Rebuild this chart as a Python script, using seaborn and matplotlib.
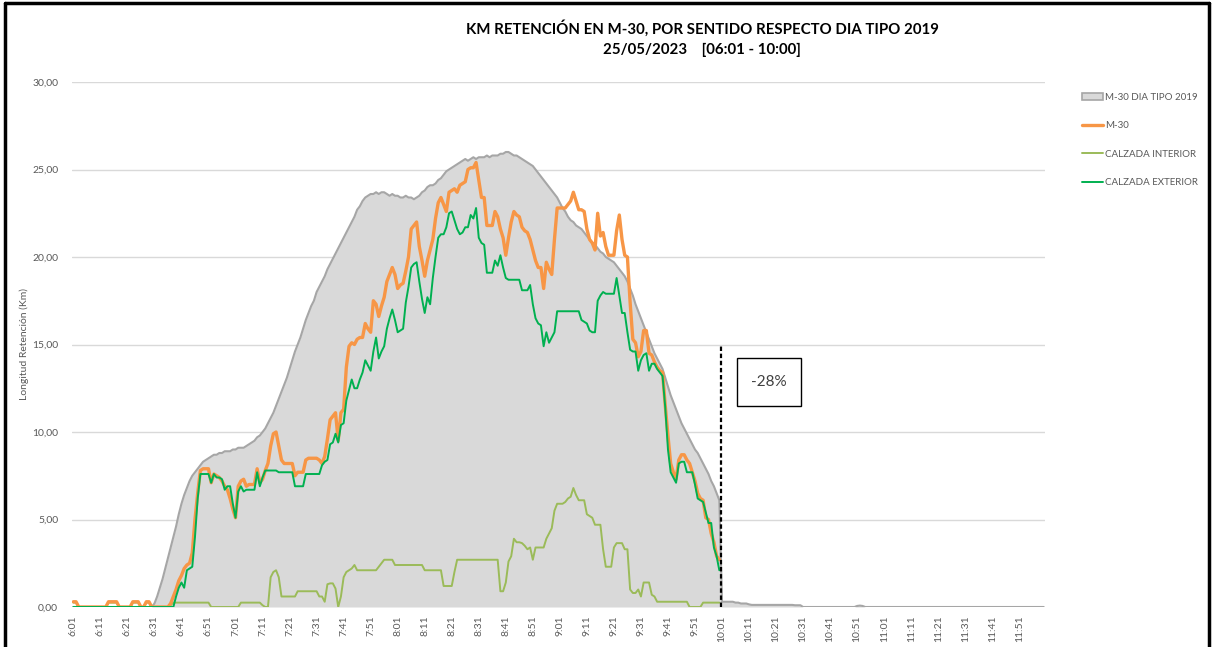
import matplotlib
matplotlib.use("Agg")
import matplotlib.pyplot as plt
import seaborn as sns
import pandas as pd
import numpy as np
from matplotlib.patches import Rectangle, Patch
from matplotlib.lines import Line2D

# ---------------- data ----------------
N_MIN = 360  # 6:01 .. 12:00, one category per minute
times = [f"{(361 + i) // 60}:{(361 + i) % 60:02d}" for i in range(N_MIN)]

dia_tipo_2019 = [
    0, 0, 0, 0, 0, 0, 0, 0, 0, 0,
    0, 0, 0, 0, 0, 0, 0, 0, 0, 0,
    0, 0, 0, 0, 0, 0, 0, 0, 0, 0,
    0.2, 0.6, 1.1, 1.6, 2.2, 2.8, 3.4, 4.0, 4.6, 5.3,
    5.9, 6.4, 6.8, 7.2, 7.5, 7.7, 7.9, 8.1, 8.3, 8.4,
    8.5, 8.6, 8.7, 8.7, 8.8, 8.8, 8.9, 8.9, 8.9, 9.0,
    9.0, 9.1, 9.1, 9.1, 9.2, 9.3, 9.4, 9.5, 9.7, 9.8,
    10.0, 10.2, 10.5, 10.8, 11.1, 11.5, 11.9, 12.3, 12.7, 13.1,
    13.6, 14.1, 14.6, 15.0, 15.4, 15.9, 16.4, 16.8, 17.2, 17.5,
    18.0, 18.3, 18.6, 18.9, 19.3, 19.6, 19.9, 20.2, 20.5, 20.8,
    21.1, 21.4, 21.7, 22.0, 22.3, 22.7, 22.9, 23.2, 23.4, 23.5,
    23.6, 23.6, 23.7, 23.6, 23.7, 23.7, 23.6, 23.5, 23.6, 23.5,
    23.5, 23.4, 23.4, 23.5, 23.4, 23.4, 23.3, 23.4, 23.5, 23.7,
    23.8, 24.0, 24.1, 24.1, 24.2, 24.4, 24.5, 24.7, 24.9, 25.0,
    25.1, 25.2, 25.3, 25.4, 25.5, 25.6, 25.5, 25.6, 25.7, 25.6,
    25.7, 25.7, 25.7, 25.8, 25.7, 25.8, 25.8, 25.8, 25.9, 25.9,
    26.0, 26.0, 25.9, 25.8, 25.8, 25.7, 25.6, 25.5, 25.4, 25.3,
    25.2, 25.0, 24.8, 24.6, 24.4, 24.2, 24.0, 23.8, 23.6, 23.4,
    23.1, 22.8, 22.6, 22.3, 22.1, 22.0, 21.8, 21.7, 21.6, 21.4,
    21.2, 21.0, 20.8, 20.7, 20.5, 20.3, 20.2, 20.0, 19.9, 19.8,
    19.7, 19.5, 19.3, 19.1, 18.9, 18.6, 18.2, 17.8, 17.3, 16.9,
    16.5, 16.1, 15.7, 15.3, 14.9, 14.5, 14.2, 13.9, 13.6, 13.1,
    12.6, 12.1, 11.7, 11.3, 10.9, 10.5, 10.2, 9.9, 9.6, 9.3,
    9.0, 8.8, 8.5, 8.2, 7.9, 7.6, 7.2, 6.9, 6.5, 6.1,
    0.3, 0.3, 0.3, 0.3, 0.3, 0.25, 0.25, 0.2, 0.2, 0.2,
    0.15, 0.12, 0.12, 0.12, 0.12, 0.12, 0.12, 0.12, 0.12, 0.12,
    0.12, 0.12, 0.12, 0.12, 0.12, 0.12, 0.12, 0.1, 0.1, 0.1,
    0, 0, 0, 0, 0, 0, 0, 0, 0, 0,
    0, 0, 0, 0, 0, 0, 0, 0, 0, 0,
    0.06, 0.08, 0.06, 0, 0, 0, 0, 0, 0, 0,
    0, 0, 0, 0, 0, 0, 0, 0, 0, 0,
    0, 0, 0, 0, 0, 0, 0, 0, 0, 0,
    0, 0, 0, 0, 0, 0, 0, 0, 0, 0,
    0, 0, 0, 0, 0, 0, 0, 0, 0, 0,
    0, 0, 0, 0, 0, 0, 0, 0, 0, 0,
    0, 0, 0, 0, 0, 0, 0, 0, 0, 0,
]

m30 = [
    0.3, 0.3, 0, 0, 0, 0, 0, 0, 0, 0,
    0, 0, 0, 0.3, 0.3, 0.3, 0.3, 0, 0, 0,
    0, 0, 0.3, 0.3, 0.3, 0, 0, 0.3, 0.3, 0,
    0, 0, 0, 0, 0, 0, 0.2, 0.6, 1.0, 1.5,
    1.8, 2.2, 2.4, 2.5, 3.1, 5.0, 6.5, 7.8, 7.9, 7.9,
    7.9, 7.1, 7.6, 7.5, 7.4, 7.2, 6.9, 6.7, 6.2, 5.6,
    5.1, 6.9, 7.2, 7.3, 6.9, 7.0, 7.0, 7.0, 7.9, 7.1,
    7.3, 7.8, 8.2, 9.2, 9.9, 10.0, 9.2, 8.4, 8.2, 8.2,
    8.2, 8.2, 7.5, 7.7, 7.7, 7.7, 8.4, 8.5, 8.5, 8.5,
    8.5, 8.4, 8.2, 8.6, 9.6, 10.7, 10.9, 11.1, 9.5, 11.1,
    11.3, 13.7, 14.9, 15.1, 15.0, 15.3, 15.4, 15.4, 16.2, 15.9,
    15.7, 17.5, 17.3, 16.6, 17.2, 17.7, 18.6, 19.0, 19.4, 19.0,
    18.2, 18.4, 18.5, 19.2, 20.0, 21.6, 21.8, 22.0, 20.6, 19.8,
    18.9, 19.8, 20.4, 21.0, 22.2, 23.1, 23.4, 23.0, 22.6, 23.7,
    23.8, 23.9, 23.7, 24.1, 24.2, 24.3, 25.0, 25.1, 25.1, 25.4,
    24.4, 23.4, 23.4, 21.8, 21.8, 21.8, 22.6, 22.3, 21.6, 21.1,
    20.1, 21.1, 22.0, 22.6, 22.4, 22.3, 21.7, 21.5, 21.4, 21.0,
    20.4, 19.8, 19.4, 19.4, 18.2, 19.7, 19.3, 19.0, 21.0, 22.8,
    22.8, 22.8, 22.8, 23.0, 23.2, 23.7, 23.2, 22.7, 22.7, 22.6,
    21.6, 21.0, 20.8, 20.4, 22.5, 21.2, 21.4, 20.6, 20.1, 20.1,
    20.1, 21.5, 22.4, 21.0, 20.1, 20.0, 17.4, 15.3, 15.1, 14.3,
    14.6, 15.8, 15.8, 14.5, 14.4, 14.0, 13.7, 13.5, 13.4, 11.5,
    9.8, 8.2, 7.7, 7.3, 8.4, 8.7, 8.7, 8.4, 8.2, 7.7,
    7.2, 6.5, 6.2, 6.1, 5.1, 5.0, 4.2, 3.7, 2.9, 2.7,
]

calzada_exterior = [
    0, 0, 0, 0, 0, 0, 0, 0, 0, 0,
    0, 0, 0, 0, 0, 0, 0, 0, 0, 0,
    0, 0, 0, 0, 0, 0, 0, 0, 0, 0,
    0, 0, 0, 0, 0, 0, 0, 0, 0.6, 1.1,
    1.4, 1.1, 2.1, 2.2, 2.3, 4.0, 6.2, 7.6, 7.6, 7.6,
    7.6, 7.1, 7.6, 7.4, 7.4, 7.3, 6.7, 6.9, 6.9, 5.9,
    5.1, 6.6, 6.9, 6.6, 6.7, 6.7, 6.7, 6.7, 7.7, 6.9,
    7.4, 7.8, 7.8, 7.8, 7.8, 7.8, 7.7, 7.7, 7.7, 7.7,
    7.7, 7.7, 6.9, 6.9, 6.9, 6.9, 7.6, 7.6, 7.6, 7.6,
    7.6, 7.6, 8.1, 8.3, 8.4, 9.3, 9.4, 9.9, 9.4, 10.4,
    10.5, 11.8, 12.4, 13.0, 12.5, 12.5, 13.0, 13.4, 14.1, 13.8,
    13.5, 14.6, 15.4, 14.2, 14.6, 14.9, 15.9, 16.5, 17.0, 16.4,
    15.7, 15.8, 15.9, 17.4, 18.3, 19.4, 19.6, 19.7, 18.6, 17.6,
    16.8, 17.7, 17.3, 18.8, 20.0, 21.1, 21.3, 21.3, 21.7, 22.5,
    22.6, 22.1, 21.6, 21.3, 21.4, 21.7, 21.7, 22.4, 22.2, 22.8,
    21.1, 20.8, 20.7, 19.1, 19.1, 19.1, 19.8, 19.5, 20.1, 19.4,
    18.8, 18.7, 18.7, 18.7, 18.7, 18.7, 18.1, 18.1, 18.1, 18.4,
    17.3, 16.5, 16.2, 16.1, 14.9, 15.7, 15.1, 15.4, 15.7, 16.9,
    16.9, 16.9, 16.9, 16.9, 16.9, 16.9, 16.9, 16.9, 16.4, 16.3,
    16.2, 15.8, 15.7, 15.7, 17.5, 17.8, 18.0, 17.9, 17.9, 17.9,
    17.9, 18.8, 17.8, 16.8, 16.8, 15.7, 14.7, 14.6, 14.6, 13.5,
    14.1, 14.4, 14.5, 13.5, 13.9, 13.9, 13.6, 13.4, 13.2, 11.4,
    9.0, 7.7, 7.4, 7.1, 8.2, 8.3, 8.3, 7.7, 7.7, 7.7,
    7.0, 6.2, 6.1, 6.0, 5.4, 4.8, 4.8, 3.4, 2.9, 2.1,
]

calzada_interior = [
    0.25, 0.25, 0, 0, 0, 0, 0, 0, 0, 0,
    0, 0, 0, 0.25, 0.25, 0.25, 0.25, 0, 0, 0,
    0, 0, 0.25, 0.25, 0.25, 0, 0, 0.25, 0.25, 0,
    0, 0, 0, 0, 0, 0, 0.1, 0.25, 0.25, 0.25,
    0.25, 0.25, 0.25, 0.25, 0.25, 0.25, 0.25, 0.25, 0.25, 0.25,
    0.25, 0, 0, 0, 0, 0, 0, 0, 0, 0,
    0, 0, 0.25, 0.25, 0.25, 0.25, 0.25, 0.25, 0.25, 0.25,
    0.1, 0, 0, 1.7, 2.0, 2.1, 1.7, 0.6, 0.6, 0.6,
    0.6, 0.6, 0.6, 0.9, 0.9, 0.9, 0.9, 0.9, 0.9, 0.9,
    0.9, 0.6, 0.6, 0.3, 1.3, 1.35, 1.35, 1.05, 0, 0.6,
    1.7, 2.0, 2.1, 2.2, 2.4, 2.1, 2.1, 2.1, 2.1, 2.1,
    2.1, 2.1, 2.1, 2.3, 2.5, 2.7, 2.7, 2.7, 2.7, 2.4,
    2.4, 2.4, 2.4, 2.4, 2.4, 2.4, 2.4, 2.4, 2.4, 2.4,
    2.1, 2.1, 2.1, 2.1, 2.1, 2.1, 2.1, 1.2, 1.2, 1.2,
    1.2, 2.0, 2.7, 2.7, 2.7, 2.7, 2.7, 2.7, 2.7, 2.7,
    2.7, 2.7, 2.7, 2.7, 2.7, 2.7, 2.7, 2.7, 0.9, 0.9,
    1.4, 2.6, 2.9, 3.9, 3.7, 3.7, 3.65, 3.5, 3.3, 3.4,
    2.7, 3.4, 3.4, 3.4, 3.4, 3.9, 4.2, 4.5, 5.5, 5.9,
    5.9, 5.9, 6.0, 6.2, 6.3, 6.8, 6.4, 6.1, 6.1, 6.1,
    5.3, 5.2, 5.1, 4.7, 4.7, 4.7, 3.3, 2.3, 2.3, 2.3,
    3.4, 3.65, 3.65, 3.65, 3.3, 3.3, 1.0, 0.8, 0.8, 1.0,
    0.6, 1.4, 1.4, 1.4, 0.7, 0.6, 0.3, 0.3, 0.3, 0.3,
    0.3, 0.3, 0.3, 0.3, 0.3, 0.3, 0.3, 0.3, 0, 0,
    0, 0, 0, 0.25, 0.25, 0.25, 0.25, 0.25, 0.25, 0.25,
]

variation_label = "-28%"
cut_time = "10:01"
title_line1 = "KM RETENCIÓN EN M-30, POR SENTIDO RESPECTO DIA TIPO 2019"
title_line2 = "25/05/2023    [06:01 - 10:00]"

# ---------------- frames ----------------
df_area = pd.DataFrame({"idx": np.arange(N_MIN), "val": dia_tipo_2019})
n_rt = len(m30)
df_rt = pd.DataFrame({
    "idx": np.arange(n_rt),
    "M-30": m30,
    "CALZADA INTERIOR": calzada_interior,
    "CALZADA EXTERIOR": calzada_exterior,
})

C_AREA = "#d9d9d9"
C_AREA_EDGE = "#a6a6a6"
C_ORANGE = "#f79646"
C_LGREEN = "#9bbb59"
C_GREEN = "#00b050"
C_TEXT = "#595959"

sns.set_theme(style="white")
plt.rcParams["font.family"] = ["Lato", "DejaVu Sans"]

fig = plt.figure(figsize=(12.13, 6.47), dpi=100)
ax = fig.add_axes([72 / 1213, 1 - 607 / 647, (1045 - 72) / 1213, (607 - 82) / 647])

# area (gray typical day)
ax.fill_between(df_area["idx"], 0, df_area["val"], color=C_AREA, lw=0, zorder=1)
sns.lineplot(data=df_area, x="idx", y="val", ax=ax, color=C_AREA_EDGE, lw=1.5, zorder=2, legend=False)

sns.lineplot(data=df_rt, x="idx", y="CALZADA INTERIOR", ax=ax, color=C_LGREEN, lw=1.4, zorder=3, legend=False)
sns.lineplot(data=df_rt, x="idx", y="M-30", ax=ax, color=C_ORANGE, lw=2.4, zorder=4, legend=False)
sns.lineplot(data=df_rt, x="idx", y="CALZADA EXTERIOR", ax=ax, color=C_GREEN, lw=1.4, zorder=5, legend=False)

# dashed cut line and annotation box
cut_idx = times.index(cut_time)
ax.vlines(cut_idx - 0.5, 0, 15, colors="black", linestyles=(0, (2, 1.2)), lw=1.6, zorder=6)
ax.add_patch(Rectangle((245.5, 11.5), 23.6, 2.75, facecolor="white", edgecolor="black", lw=1.0, zorder=7))
ax.text(257.3, 12.87, variation_label, ha="center", va="center", fontsize=11, color="#404040", zorder=8)

# axes styling
ax.set_xlim(-0.5, N_MIN - 0.5)
ax.set_ylim(0, 30)
ax.set_yticks(np.arange(0, 31, 5))
ax.set_yticklabels([f"{v:.2f}".replace(".", ",") for v in np.arange(0, 31, 5)], fontsize=7.5, color=C_TEXT)
xt = np.arange(0, N_MIN, 10)
ax.set_xticks(xt)
ax.set_xticklabels([times[i] for i in xt], rotation=90, fontsize=7.5, color=C_TEXT)
ax.tick_params(axis="both", length=0)
ax.tick_params(axis="y", pad=10)
ax.tick_params(axis="x", pad=6)
ax.grid(axis="y", color="#d9d9d9", lw=1, zorder=0)
ax.set_axisbelow(True)
for s in ax.spines.values():
    s.set_visible(False)
ax.set_xlabel("")
ax.set_ylabel("Longitud Retención (Km)", fontsize=7.5, color=C_TEXT, labelpad=2)

# title
fig.text(702 / 1213, 1 - 28 / 647, title_line1, ha="center", va="center", fontsize=10.8, fontweight="bold", color="black")
fig.text(702 / 1213, 1 - 50 / 647, title_line2, ha="center", va="center", fontsize=10.8, fontweight="bold", color="black")

# legend
handles = [
    Patch(facecolor=C_AREA, edgecolor=C_AREA_EDGE, lw=1.2),
    Line2D([], [], color=C_ORANGE, lw=2.4),
    Line2D([], [], color=C_LGREEN, lw=1.4),
    Line2D([], [], color=C_GREEN, lw=1.4),
]
labels = ["M-30 DIA TIPO 2019", "M-30", "CALZADA INTERIOR", "CALZADA EXTERIOR"]
fig.legend(handles, labels, loc="upper left", bbox_to_anchor=(1078 / 1213, 1 - 89 / 647),
           frameon=False, fontsize=7, labelcolor=C_TEXT, handlelength=2.2, handleheight=0.7,
           handletextpad=0.2, labelspacing=2.0, borderaxespad=0)

# outer frame (left, top, right)
fig.add_artist(Line2D([5 / 1213, 5 / 1213], [0, 1 - 3 / 647], color="black", lw=2.5, transform=fig.transFigure))
fig.add_artist(Line2D([5 / 1213, 1209 / 1213], [1 - 3 / 647, 1 - 3 / 647], color="black", lw=2.5, transform=fig.transFigure))
fig.add_artist(Line2D([1209 / 1213, 1209 / 1213], [0, 1 - 3 / 647], color="black", lw=2.5, transform=fig.transFigure))

fig.savefig("out.png", dpi=100)
